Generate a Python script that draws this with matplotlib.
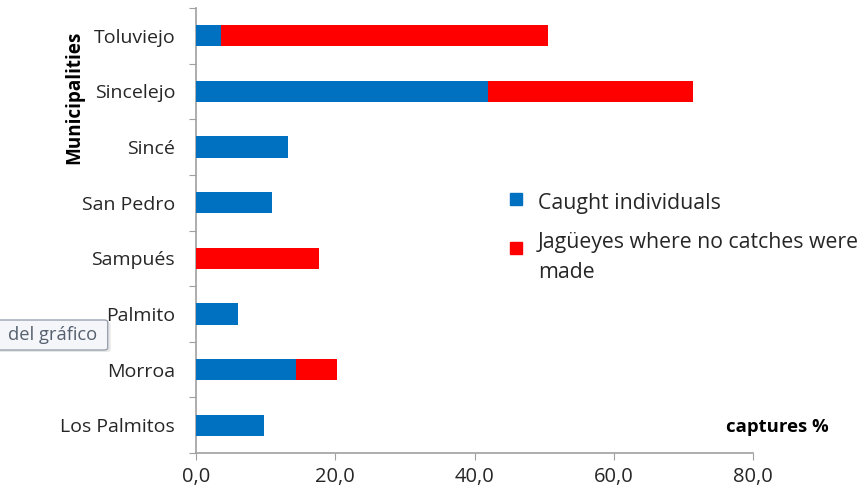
import matplotlib
matplotlib.use("Agg")
import matplotlib.pyplot as plt
from matplotlib.patches import Rectangle, FancyBboxPatch
from matplotlib.ticker import FuncFormatter

# data (bottom to top, as drawn)
municipalities = ["Los Palmitos", "Morroa", "Palmito", "Sampués",
                  "San Pedro", "Sincé", "Sincelejo", "Toluviejo"]
caught = [9.7, 14.4, 6.1, 0.0, 10.9, 13.2, 42.0, 3.6]
no_catch = [0.0, 5.8, 0.0, 17.7, 0.0, 0.0, 29.4, 46.9]
series_names = ["Caught individuals", "Jagüeyes where no catches were\nmade"]

C_BLUE = "#0070C0"
C_RED = "#FF0000"
C_AXIS = "#A0A0A0"
C_TEXT = "#262626"
FONT = "Open Sans"

plt.rcParams["font.family"] = [FONT, "DejaVu Sans"]

fig = plt.figure(figsize=(8.66, 4.95), dpi=100)
ax = fig.add_axes([196 / 866, 42 / 495, 557 / 866, 445 / 495])

pos = list(range(len(municipalities)))
ax.barh(pos, caught, height=0.38, color=C_BLUE, zorder=3)
ax.barh(pos, no_catch, left=caught, height=0.38, color=C_RED, zorder=3)

ax.set_xlim(0, 80)
ax.set_ylim(-0.5, len(municipalities) - 0.5)
ax.set_xticks([0, 20, 40, 60, 80])
ax.xaxis.set_major_formatter(FuncFormatter(lambda v, p: f"{v:.1f}".replace(".", ",")))

# category boundary ticks, labels on minor ticks at centres
ax.set_yticks([p - 0.5 for p in pos] + [pos[-1] + 0.5])
ax.set_yticklabels([])
ax.set_yticks(pos, minor=True)
ax.set_yticklabels(municipalities, minor=True)
ax.tick_params(axis="y", which="major", length=5, color=C_AXIS, direction="out")
ax.tick_params(axis="y", which="minor", length=0, pad=15, labelsize=14, labelcolor=C_TEXT)
ax.tick_params(axis="x", length=5, color=C_AXIS, direction="out", pad=5,
               labelsize=14.5, labelcolor=C_TEXT)

for s in ["top", "right"]:
    ax.spines[s].set_visible(False)
for s in ["left", "bottom"]:
    ax.spines[s].set_color(C_AXIS)
    ax.spines[s].set_linewidth(1.2)

# axis titles
fig.text(74 / 866, 1 - 97 / 495, "Municipalities", rotation=90, ha="center", va="center",
         fontsize=13.6, fontweight="bold", color="#000000")
fig.text(829 / 866, 1 - 427 / 495, "captures %", ha="right", va="center",
         fontsize=13.3, fontweight="bold", color="#000000")

# legend
for (ys, yt), col, name in zip([(199, 203), (248, 232)], [C_BLUE, C_RED], series_names):
    fig.patches.append(Rectangle((510 / 866, 1 - (ys + 6) / 495), 12 / 866, 12 / 495,
                                 transform=fig.transFigure, color=col))
    fig.text(538 / 866, 1 - yt / 495, name, ha="left", va="top" if "\n" in name else "center",
             fontsize=15.3, color=C_TEXT, linespacing=1.55)

# leftover Excel tooltip (with a faint shadow)
fig.patches.append(FancyBboxPatch((-0.02, 1 - 352 / 495), 128 / 866, 30 / 495,
                                  boxstyle="round,pad=0,rounding_size=0.004",
                                  transform=fig.transFigure, facecolor="#D8D8D8",
                                  edgecolor="none", alpha=0.6))
fig.patches.append(FancyBboxPatch((-0.02, 1 - 350 / 495), 125 / 866, 30 / 495,
                                  boxstyle="round,pad=0,rounding_size=0.004",
                                  transform=fig.transFigure, facecolor="#F4F6FA",
                                  edgecolor="#9AA3B0", linewidth=1))
fig.text(8 / 866, 1 - 335 / 495, "del gráfico", ha="left", va="center",
         fontsize=13.2, color="#56606E")

fig.savefig("out.png", dpi=100)
